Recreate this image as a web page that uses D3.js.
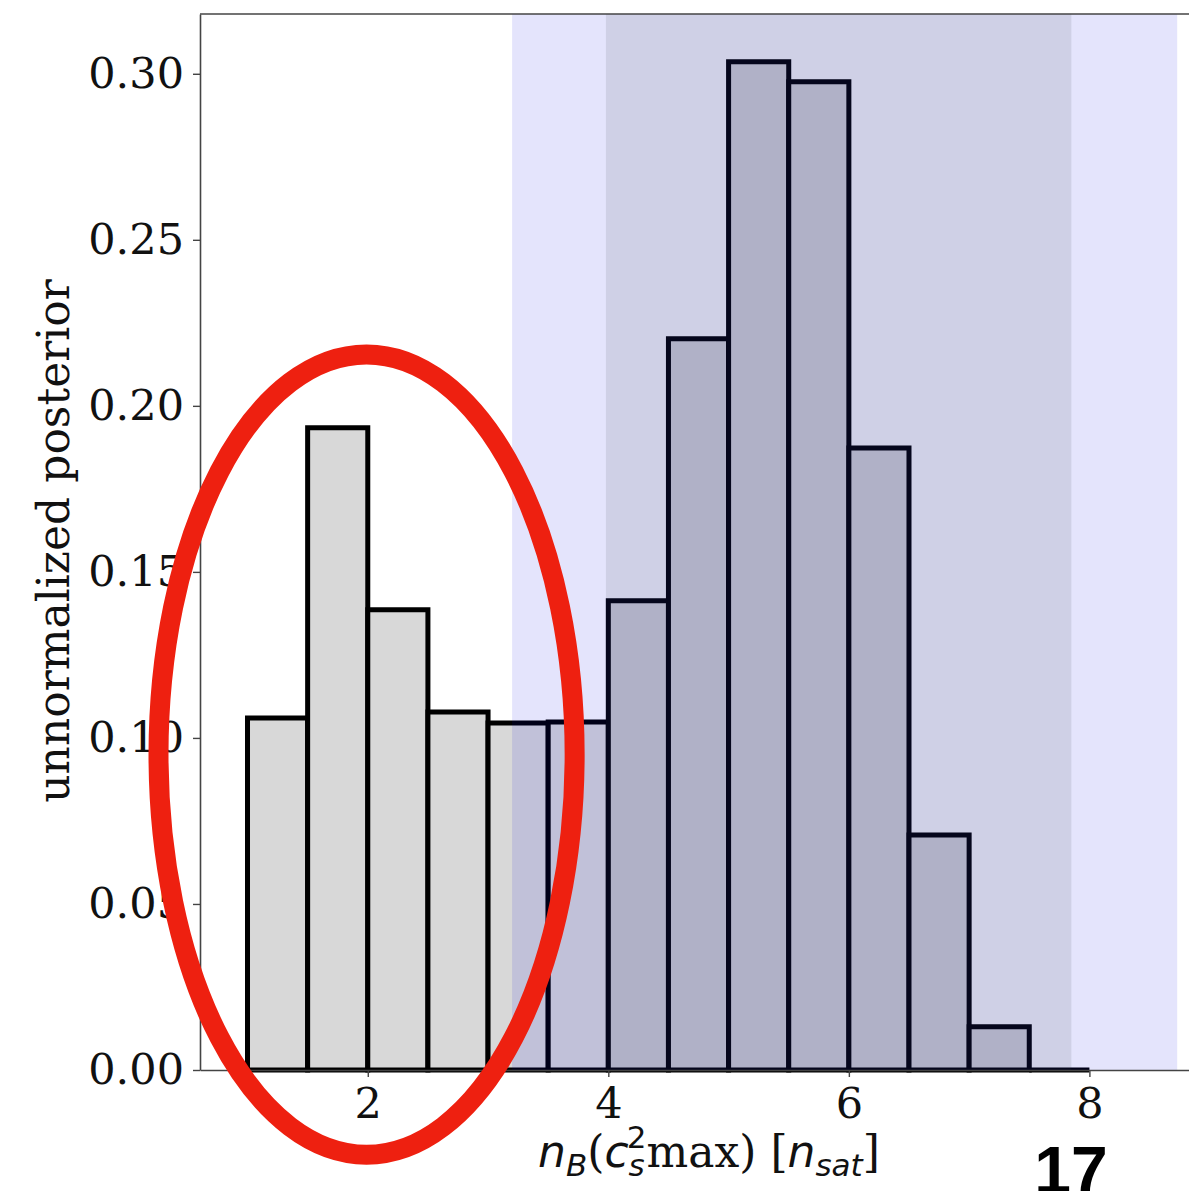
<!DOCTYPE html>
<html>
<head>
<meta charset="utf-8">
<script src="https://cdn.jsdelivr.net/npm/d3@7"></script>
<style>
  html, body { margin: 0; padding: 0; background: #fff; overflow: hidden; }
  svg { display: block; }
</style>
</head>
<body>
<svg id="chart" width="1189" height="1191"></svg>
<script>
// Histogram of the density at which c_s^2 peaks (bin width 0.5 n_sat)
const binEdges = [1.0, 1.5, 2.0, 2.5, 3.0, 3.5, 4.0, 4.5, 5.0, 5.5, 6.0, 6.5, 7.0, 7.5, 8.0];
const posterior = [0.106, 0.1934, 0.1386, 0.1078, 0.1045, 0.1048, 0.1413, 0.2202, 0.3036, 0.2976, 0.1873, 0.0708, 0.0130, 0.0];
const xTicks = [2, 4, 6, 8];
const yTicks = [0.00, 0.05, 0.10, 0.15, 0.20, 0.25, 0.30];
// credible intervals: [lo, hi]
const outerBand = [3.2, 8.73];
const innerBand = [3.98, 7.85];
// highlighted region (data units): centre, semi-axes
const ringCentre = [1.99, 0.095];
const ringRadii = [1.73, 0.1205];

const svg = d3.select("#chart");
const W = 1189, H = 1191;
const plotLeft = 200, plotTop = 14, plotBottom = 1070;
const xMin = 0.605, xMax = 9.2;
const pxPerUnit = 120.27;

const x = d3.scaleLinear().domain([xMin, xMax]).range([plotLeft, plotLeft + (xMax - xMin) * pxPerUnit]);
const y = d3.scaleLinear().domain([0, 0.318]).range([plotBottom, plotTop]);

const bins = posterior.map((v, i) => ({ x0: binEdges[i], x1: binEdges[i + 1], v }));

const plot = svg.append("g");

// bars (as closed paths so an empty bin still shows its edge)
plot.selectAll("path.bar").data(bins).join("path")
  .attr("class", "bar")
  .attr("d", d => {
    const p = d3.path();
    p.moveTo(x(d.x0), y(0));
    p.lineTo(x(d.x0), y(d.v));
    p.lineTo(x(d.x1), y(d.v));
    p.lineTo(x(d.x1), y(0));
    p.closePath();
    return p.toString();
  })
  .attr("fill", "#d8d8d8")
  .attr("stroke", "#000")
  .attr("stroke-width", 5)
  .attr("stroke-linejoin", "miter");

// shaded intervals drawn over the bars
plot.append("rect")
  .attr("x", x(outerBand[0])).attr("width", x(outerBand[1]) - x(outerBand[0]))
  .attr("y", y(0.318)).attr("height", y(0) - y(0.318))
  .attr("fill", "rgb(0,0,230)").attr("fill-opacity", 0.105);
plot.append("rect")
  .attr("x", x(innerBand[0])).attr("width", x(innerBand[1]) - x(innerBand[0]))
  .attr("y", y(0.318)).attr("height", y(0) - y(0.318))
  .attr("fill", "rgb(44,53,60)").attr("fill-opacity", 0.114);

// axes
const axisColor = "#444";
const tickFont = "43px";
const xAxis = svg.append("g")
  .attr("transform", `translate(0,${y(0)})`)
  .call(d3.axisBottom(x).tickValues(xTicks).tickFormat(d3.format("d")).tickSize(7).tickSizeOuter(0).tickPadding(8));
const yAxis = svg.append("g")
  .attr("transform", `translate(${plotLeft},0)`)
  .call(d3.axisLeft(y).tickValues(yTicks).tickFormat(d3.format(".2f")).tickSize(7).tickSizeOuter(0).tickPadding(9));
[xAxis, yAxis].forEach(a => {
  a.select(".domain").attr("stroke", axisColor).attr("stroke-width", 1.6);
  a.selectAll(".tick line").attr("stroke", axisColor).attr("stroke-width", 1.4);
  a.selectAll(".tick text")
    .attr("fill", "#111")
    .style("font-family", "'DejaVu Serif', serif")
    .style("font-size", tickFont);
});
xAxis.selectAll(".tick text").attr("dy", "0.76em");
// top spine
svg.append("line")
  .attr("x1", plotLeft).attr("x2", W + 10)
  .attr("y1", plotTop).attr("y2", plotTop)
  .attr("stroke", axisColor).attr("stroke-width", 1.6);

// axis titles
svg.append("text")
  .attr("transform", `translate(69,541) rotate(-90)`)
  .attr("text-anchor", "middle")
  .style("font-family", "'DejaVu Serif', serif")
  .style("font-size", "44px")
  .attr("fill", "#111")
  .text("unnormalized posterior");

const sans = "'DejaVu Sans', sans-serif";
const serif = "'DejaVu Serif', serif";
const xTitle = svg.append("text")
  .attr("x", 709).attr("y", 1167)
  .attr("text-anchor", "middle")
  .style("font-family", serif)
  .style("font-size", "44px")
  .attr("fill", "#111");
const part = (txt, opts = {}) => {
  const t = xTitle.append("tspan").text(txt);
  if (opts.italic) t.style("font-style", "italic");
  if (opts.sans) t.style("font-family", sans);
  if (opts.size) t.style("font-size", opts.size);
  if (opts.dx != null) t.attr("dx", opts.dx);
  if (opts.dy != null) t.attr("dy", opts.dy);
  return t;
};
part("n", { italic: true, sans: true });
part("B", { italic: true, sans: true, size: "31px", dy: 9 });
part("(", { dy: -9 });
part("c", { italic: true, sans: true });
part("s", { italic: true, sans: true, size: "31px", dy: 9 });
part("2", { sans: true, size: "31px", dx: -18, dy: -28 });
part("max) [", { dy: 19 });
part("n", { italic: true, sans: true });
part("sat", { italic: true, sans: true, size: "31px", dy: 9 });
part("]", { dy: -9 });

// highlight ring
svg.append("ellipse")
  .attr("cx", x(ringCentre[0])).attr("cy", y(ringCentre[1]))
  .attr("rx", x(ringCentre[0] + ringRadii[0]) - x(ringCentre[0]))
  .attr("ry", y(0) - y(ringRadii[1]))
  .attr("fill", "none")
  .attr("stroke", "#ee2010")
  .attr("stroke-width", 20);

// page number
svg.append("text")
  .attr("x", 1071).attr("y", 1193)
  .attr("text-anchor", "middle")
  .style("font-family", "'Liberation Sans', Arial, sans-serif")
  .style("font-weight", "bold")
  .style("font-size", "66px")
  .attr("fill", "#000")
  .text("17");
</script>
</body>
</html>
